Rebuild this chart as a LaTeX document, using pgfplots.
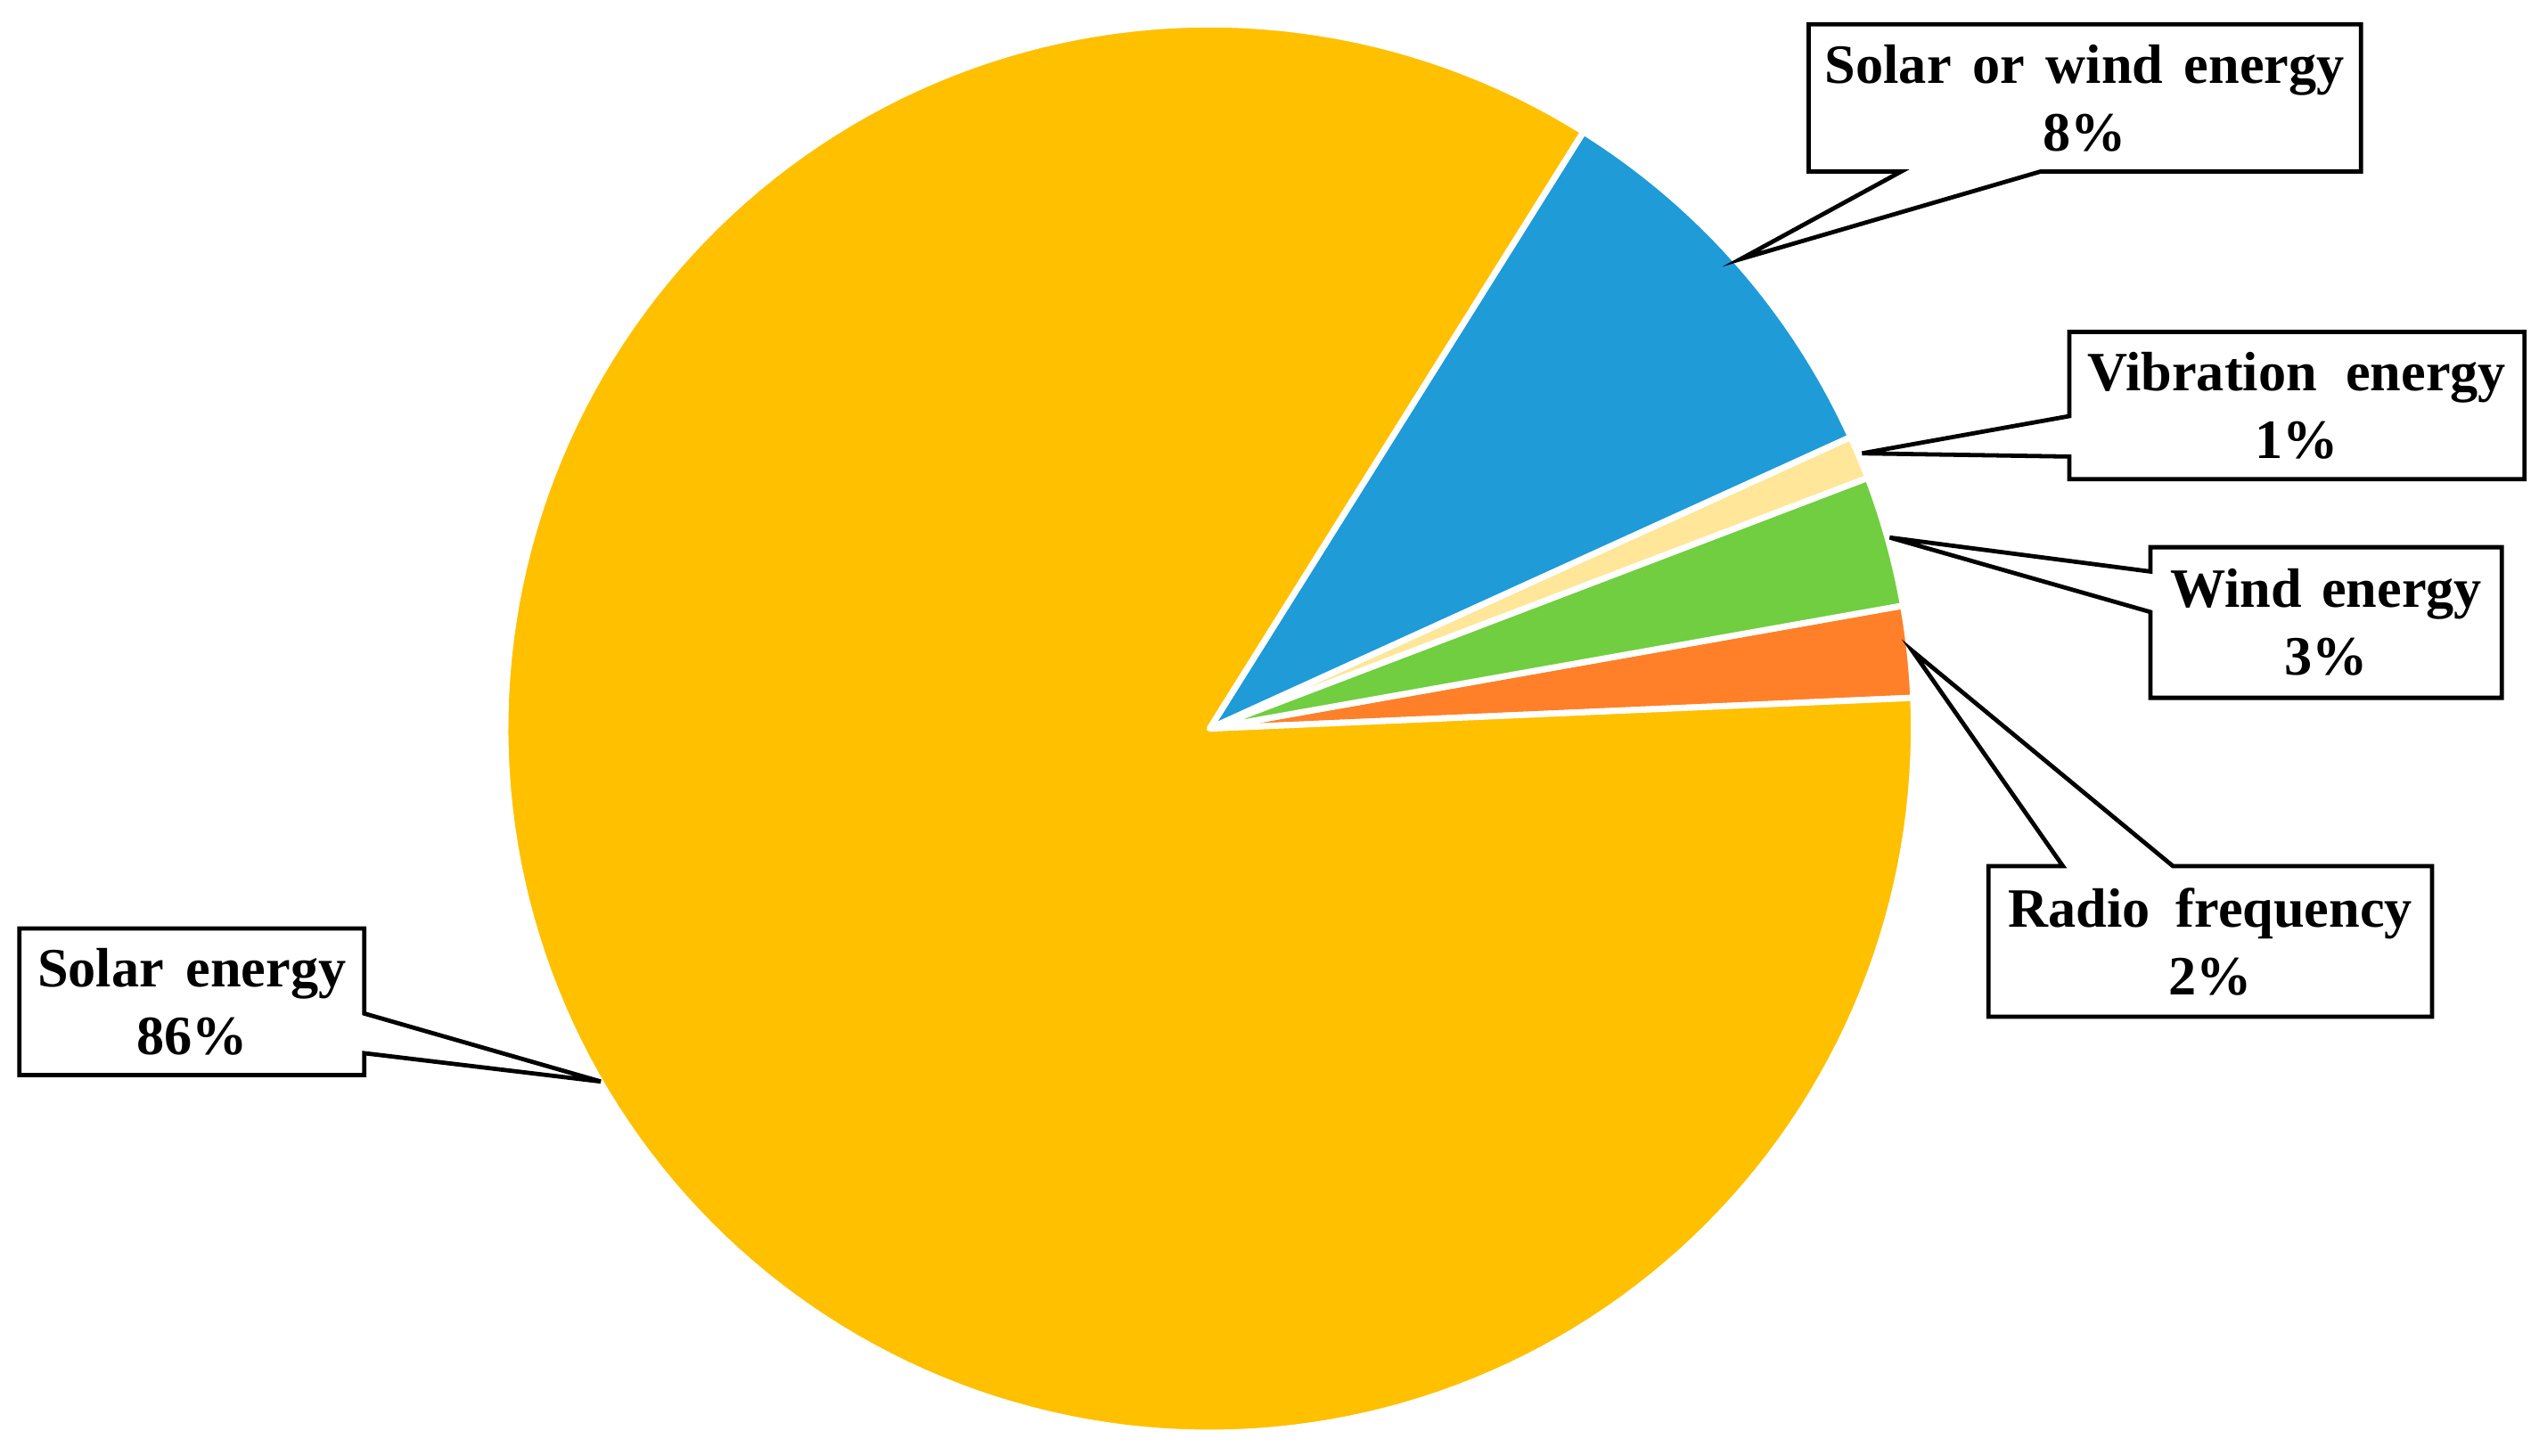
\documentclass[border=0pt]{standalone}
\usepackage{fontspec}
\setmainfont{Liberation Serif}
\usepackage{pgfplots}
\pgfplotsset{compat=1.18}
\usepackage{pgfplotstable}

\definecolor{cSolar}{RGB}{255,192,0}
\definecolor{cSolarWind}{RGB}{31,155,215}
\definecolor{cVib}{RGB}{255,230,153}
\definecolor{cWind}{RGB}{112,206,64}
\definecolor{cRadio}{RGB}{255,128,40}

% shares in percent, counter-clockwise from the first slice
\pgfplotstableread{
name       value
Radio      2.1
Wind       3.0
Vibration  1.0
SolarWind  9.3
Solar      84.6
}\piedata

\newcommand{\getv}[2]{\pgfplotstablegetelem{#1}{value}\of\piedata\let#2\pgfplotsretval}
\getv{0}{\vA}\getv{1}{\vB}\getv{2}{\vC}\getv{3}{\vD}\getv{4}{\vE}
\pgfmathsetmacro\aO{2.5}
\pgfmathsetmacro\aA{\aO+3.6*\vA}
\pgfmathsetmacro\aB{\aA+3.6*\vB}
\pgfmathsetmacro\aC{\aB+3.6*\vC}
\pgfmathsetmacro\aD{\aC+3.6*\vD}
\pgfmathsetmacro\aE{\aD+3.6*\vE}

\newcommand{\lbl}{\fontsize{9.75}{11.9}\selectfont\bfseries}

\begin{document}
\begin{tikzpicture}
\begin{axis}[
  x=0.1mm, y=0.1mm,
  xmin=0, xmax=1568, ymin=0, ymax=899,
  xtick=\empty, ytick=\empty,
  axis line style={draw=none},
  clip=false,
  every axis plot/.append style={draw=white, line width=1.1pt, line join=round, variable=\t, samples=80},
]
\addplot[fill=cRadio, domain=\aO:\aA] ({747+435*cos(\t)},{449+435*sin(\t)}) -- (axis cs:747,449) -- cycle;
\addplot[fill=cWind, domain=\aA:\aB] ({747+435*cos(\t)},{449+435*sin(\t)}) -- (axis cs:747,449) -- cycle;
\addplot[fill=cVib, domain=\aB:\aC] ({747+435*cos(\t)},{449+435*sin(\t)}) -- (axis cs:747,449) -- cycle;
\addplot[fill=cSolarWind, domain=\aC:\aD] ({747+435*cos(\t)},{449+435*sin(\t)}) -- (axis cs:747,449) -- cycle;
\addplot[fill=cSolar, domain=\aD:\aE, samples=200] ({747+435*cos(\t)},{449+435*sin(\t)}) -- (axis cs:747,449) -- cycle;

% callout boxes
\begin{scope}[line width=0.75pt, line join=miter]
\draw[fill=white] (axis cs:1117,884) -- (axis cs:1458,884) -- (axis cs:1458,793) -- (axis cs:1260,793) -- (axis cs:1075,739) -- (axis cs:1174,793) -- (axis cs:1117,793) -- cycle;
\draw[fill=white] (axis cs:1278,694) -- (axis cs:1559,694) -- (axis cs:1559,603) -- (axis cs:1278,603) -- (axis cs:1278,617) -- (axis cs:1150,619) -- (axis cs:1278,642) -- cycle;
\draw[fill=white] (axis cs:1328,561) -- (axis cs:1545,561) -- (axis cs:1545,468) -- (axis cs:1328,468) -- (axis cs:1328,521) -- (axis cs:1167,567) -- (axis cs:1328,546) -- cycle;
\draw[fill=white] (axis cs:1228,364) -- (axis cs:1274,364) -- (axis cs:1181,497) -- (axis cs:1342,364) -- (axis cs:1502,364) -- (axis cs:1502,271) -- (axis cs:1228,271) -- cycle;
\draw[fill=white] (axis cs:12,325.5) -- (axis cs:225,325.5) -- (axis cs:225,273) -- (axis cs:371,231) -- (axis cs:225,248.5) -- (axis cs:225,235) -- (axis cs:12,235) -- cycle;
\end{scope}

\node[align=center, font=\lbl] at (axis cs:1287.5,838.5) {Solar\hspace{0.38em}or\hspace{0.38em}wind\hspace{0.38em}energy\\8\%};
\node[align=center, font=\lbl] at (axis cs:1418.5,648.5) {Vibration\hspace{0.52em}energy\\1\%};
\node[align=center, font=\lbl] at (axis cs:1436.5,514.5) {Wind\hspace{0.36em}energy\\3\%};
\node[align=center, font=\lbl] at (axis cs:1365,317.5) {Radio\hspace{0.47em}frequency\\2\%};
\node[align=center, font=\lbl] at (axis cs:118.5,280) {Solar\hspace{0.4em}energy\\86\%};
\end{axis}
\end{tikzpicture}
\end{document}
